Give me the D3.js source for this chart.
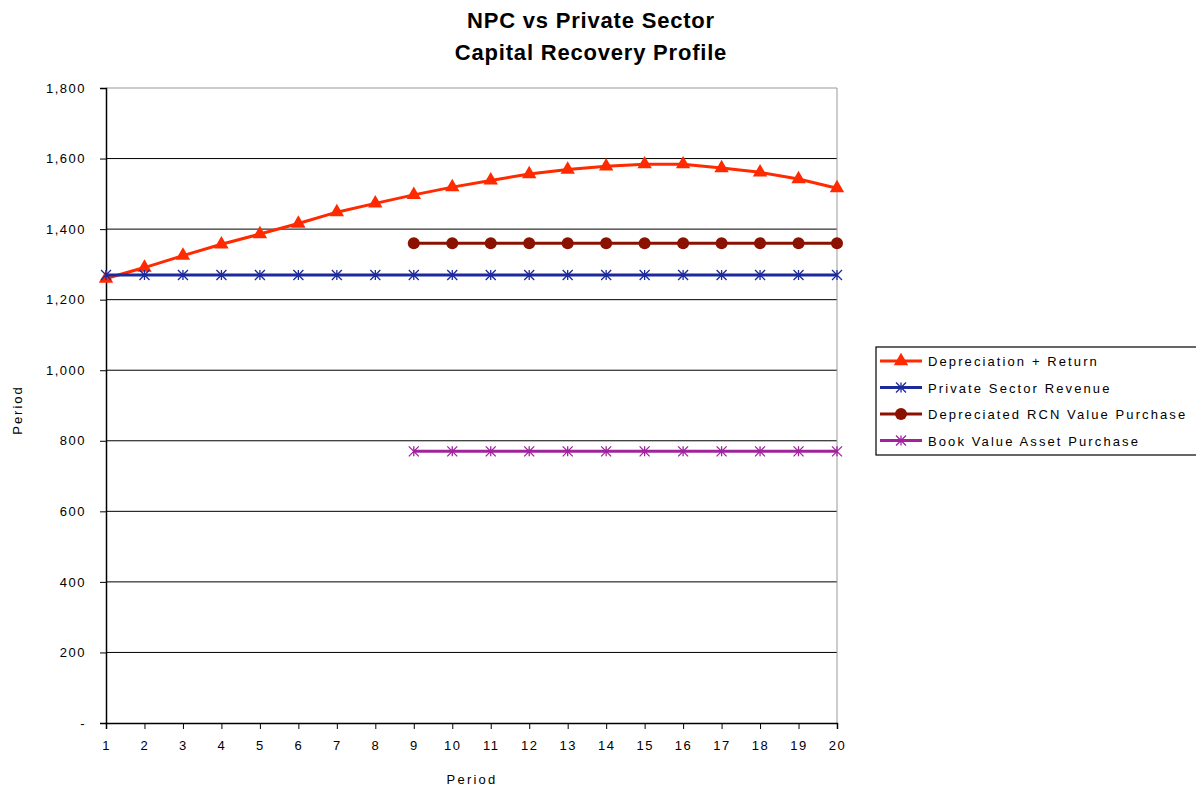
<!DOCTYPE html>
<html>
<head>
<meta charset="utf-8">
<script src="https://cdn.jsdelivr.net/npm/d3@7"></script>
<style>
  body { margin: 0; background: #fff; }
  text { font-family: "Liberation Sans", Arial, sans-serif; }
</style>
</head>
<body>
<div id="chart-area"></div>
<script>
var periods = d3.range(1, 21);
var deprReturn = [1260, 1291, 1325, 1357, 1386, 1416, 1448, 1473, 1497, 1519, 1538, 1556, 1569, 1578, 1584, 1584, 1573, 1561, 1542, 1516];
var privateRevenue = [1270, 1270, 1270, 1270, 1270, 1270, 1270, 1270, 1270, 1270, 1270, 1270, 1270, 1270, 1270, 1270, 1270, 1270, 1270, 1270];
var rcnPeriods = d3.range(9, 21);
var rcnPurchase = [1360, 1360, 1360, 1360, 1360, 1360, 1360, 1360, 1360, 1360, 1360, 1360];
var bookPeriods = d3.range(9, 21);
var bookPurchase = [770, 770, 770, 770, 770, 770, 770, 770, 770, 770, 770, 770];
var yTicks = [0, 200, 400, 600, 800, 1000, 1200, 1400, 1600, 1800];

var series = [
	{ name: "Depreciation + Return", x: periods, y: deprReturn, color: "#ff2a00", marker: "triangle" },
	{ name: "Private Sector Revenue", x: periods, y: privateRevenue, color: "#1c2a9c", marker: "star" },
	{ name: "Depreciated RCN Value Purchase", x: rcnPeriods, y: rcnPurchase, color: "#8b1100", marker: "circle" },
	{ name: "Book Value Asset Purchase", x: bookPeriods, y: bookPurchase, color: "#a0229c", marker: "star" }
];

var margin = { top: 88, right: 359, bottom: 69, left: 106 };
var width = 1196 - margin.left - margin.right;
var height = 792 - margin.top - margin.bottom;

var root = d3.select("#chart-area")
	.append("svg")
	.attr("width", 1196)
	.attr("height", 792);

var svg = root.append("g")
	.attr("transform", "translate(" + margin.left + "," + margin.top + ")");

var xScale = d3.scaleLinear().domain([1, 20]).range([0, width]);
var yScale = d3.scaleLinear().domain([0, 1800]).range([height, 0]);

// gridlines
svg.selectAll(".grid")
	.data(yTicks.filter(d => d > 0))
	.enter().append("line")
	.attr("x1", 0).attr("x2", width)
	.attr("y1", d => yScale(d)).attr("y2", d => yScale(d))
	.attr("stroke", d => d === 1800 ? "#999" : "#000")
	.attr("stroke-width", 1);

svg.append("line")
	.attr("x1", width).attr("x2", width)
	.attr("y1", 0).attr("y2", height)
	.attr("stroke", "#999");

var yAxis = d3.axisLeft(yScale)
	.tickValues(yTicks)
	.tickSize(6)
	.tickPadding(14)
	.tickFormat(d => d === 0 ? "-" : d3.format(",")(d));
var yAxisG = svg.append("g").call(yAxis);

var xAxis = d3.axisBottom(xScale)
	.tickValues(periods)
	.tickSize(6)
	.tickPadding(12)
	.tickFormat(d3.format("d"));
var xAxisG = svg.append("g")
	.attr("transform", "translate(0," + height + ")")
	.call(xAxis);

[yAxisG, xAxisG].forEach(g => {
	g.select(".domain").attr("stroke", "#000").attr("stroke-width", 1.5);
	g.selectAll(".tick line").attr("stroke", "#000");
	g.selectAll(".tick text").attr("font-size", "13px").attr("fill", "#000")
		.attr("letter-spacing", "1.5px")
		.style("font-family", "'Liberation Sans', Arial, sans-serif");
});

function starPath(s) {
	return "M" + (-s) + "," + (-s) + "L" + s + "," + s +
		"M" + (-s) + "," + s + "L" + s + "," + (-s) +
		"M0," + (-s) + "L0," + s;
}

function drawMarker(g, type, color) {
	if (type === "triangle") {
		g.append("path").attr("d", d3.symbol(d3.symbolTriangle, 90)()).attr("fill", color);
	} else if (type === "circle") {
		g.append("circle").attr("r", 6).attr("fill", color);
	} else {
		g.append("path").attr("d", starPath(5)).attr("stroke", color).attr("stroke-width", 1.3).attr("fill", "none");
	}
}

var line = d3.line().x(d => xScale(d[0])).y(d => yScale(d[1]));

series.forEach(s => {
	var pts = s.x.map((x, i) => [x, s.y[i]]);
	svg.append("path")
		.datum(pts)
		.attr("d", line)
		.attr("fill", "none")
		.attr("stroke", s.color)
		.attr("stroke-width", 3);
	svg.selectAll(null)
		.data(pts)
		.enter().append("g")
		.attr("transform", d => "translate(" + xScale(d[0]) + "," + yScale(d[1]) + ")")
		.each(function () { drawMarker(d3.select(this), s.marker, s.color); });
});

// titles
root.append("text")
	.attr("x", 591).attr("y", 28)
	.attr("text-anchor", "middle")
	.attr("font-size", "22px")
	.attr("font-weight", "bold")
	.attr("letter-spacing", "0.8px")
	.text("NPC vs Private Sector");
root.append("text")
	.attr("x", 591).attr("y", 60)
	.attr("text-anchor", "middle")
	.attr("font-size", "22px")
	.attr("font-weight", "bold")
	.attr("letter-spacing", "0.8px")
	.text("Capital Recovery Profile");

root.append("text")
	.attr("x", 472).attr("y", 784)
	.attr("text-anchor", "middle")
	.attr("font-size", "13px")
	.attr("letter-spacing", "2.2px")
	.text("Period");

root.append("text")
	.attr("transform", "translate(22,410) rotate(-90)")
	.attr("text-anchor", "middle")
	.attr("font-size", "13px")
	.attr("letter-spacing", "2px")
	.text("Period");

// legend
var legend = root.append("g").attr("transform", "translate(876,347)");
legend.append("rect")
	.attr("x", 0).attr("y", 0)
	.attr("width", 330).attr("height", 108)
	.attr("fill", "#fff").attr("stroke", "#000").attr("stroke-width", 1.2);

series.forEach((s, i) => {
	var row = legend.append("g").attr("transform", "translate(0," + (14 + i * 26.5) + ")");
	row.append("line")
		.attr("x1", 4).attr("x2", 46)
		.attr("stroke", s.color).attr("stroke-width", 3);
	drawMarker(row.append("g").attr("transform", "translate(25,0)"), s.marker, s.color);
	row.append("text")
		.attr("x", 52).attr("y", 5)
		.attr("font-size", "13px")
		.attr("letter-spacing", "2.1px")
		.text(s.name);
});
</script>
</body>
</html>
